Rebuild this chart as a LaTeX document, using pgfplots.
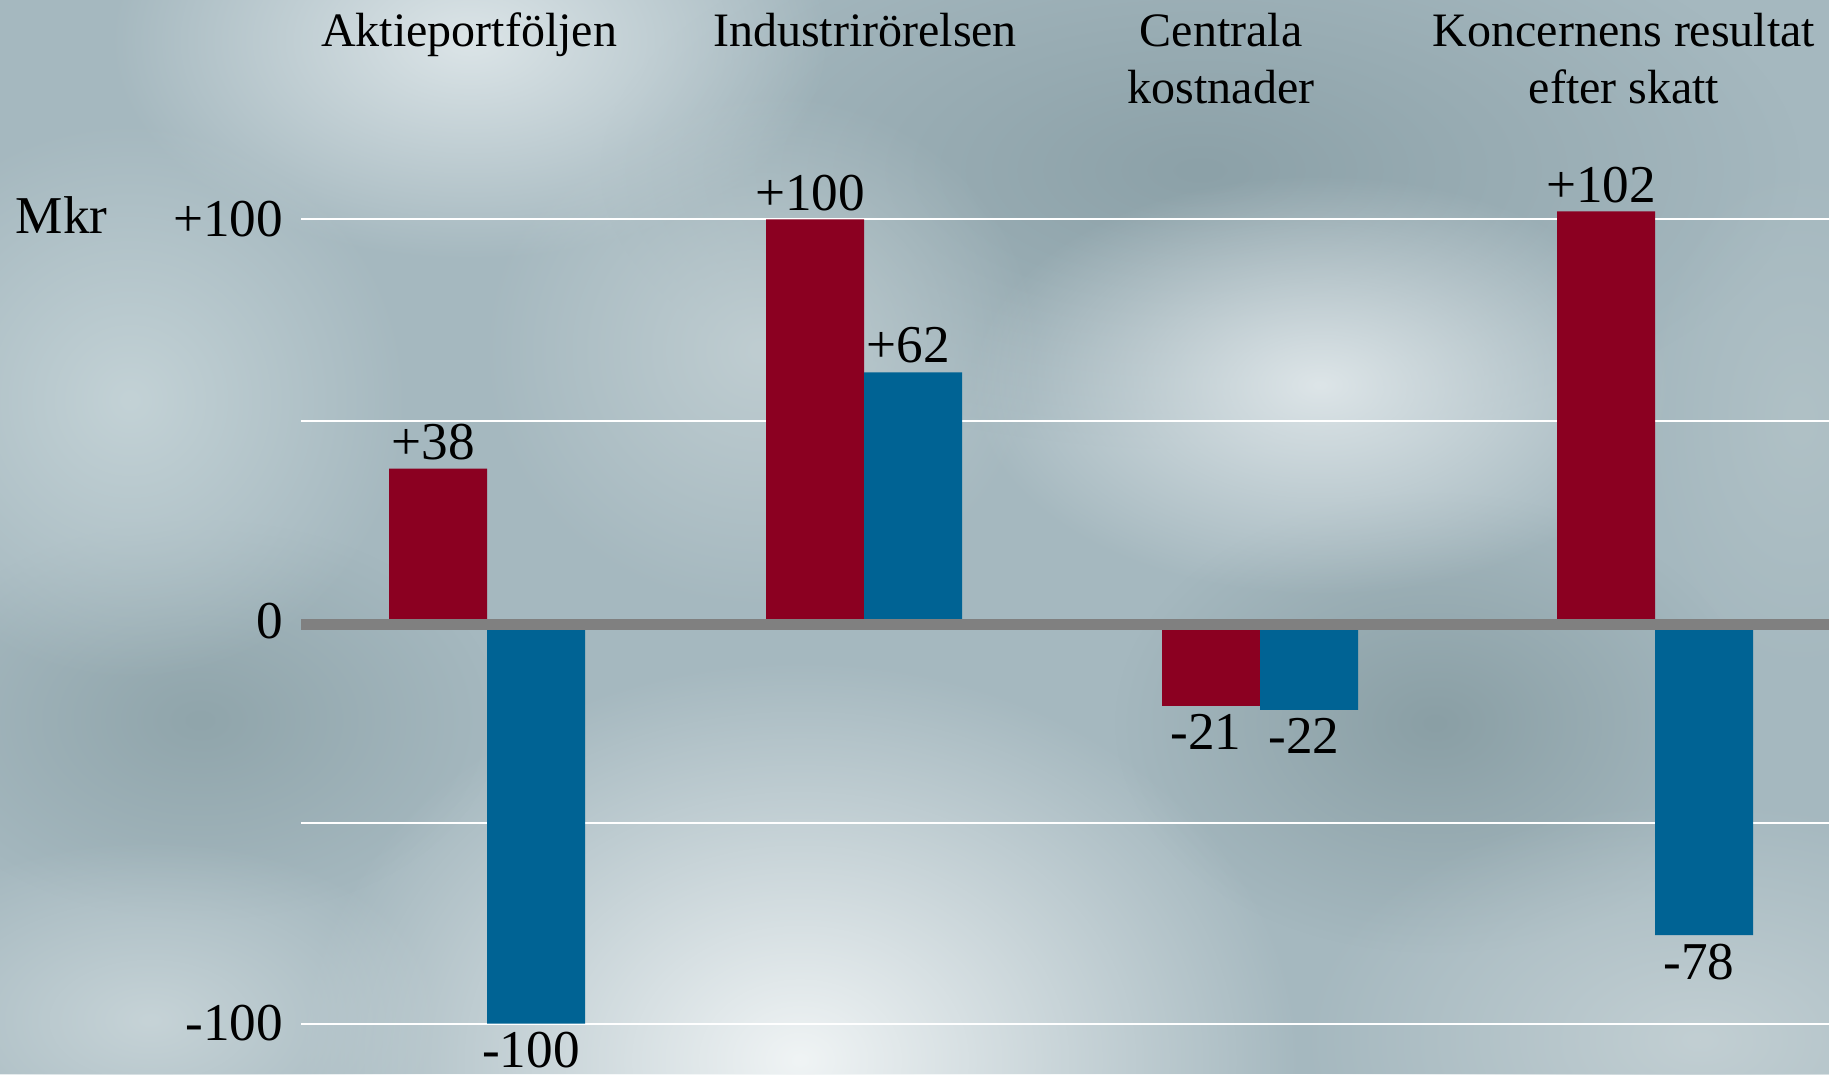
\documentclass[border=0pt]{standalone}
\usepackage{fontspec}
\setmainfont{Liberation Serif}
\usepackage{pgfplots}
\pgfplotsset{compat=1.18}
\usetikzlibrary{fadings}

\definecolor{bgbase}{HTML}{A5B8BF}
\definecolor{barred}{HTML}{8B0021}
\definecolor{barblue}{HTML}{006394}
\definecolor{zeroline}{HTML}{808080}

\tikzfading[name=blob, inner color=transparent!0, outer color=transparent!100]

\newcommand{\numfont}{\fontsize{13.3}{16}\selectfont}
\newcommand{\catfont}{\fontsize{12}{14.25}\selectfont}
% soft cloud: centre x, y, radius x, radius y, hex colour (pixel units)
\newcommand{\cloud}[5]{\definecolor{cloudc}{HTML}{#5}\fill[cloudc, path fading=blob] (#1,#2) ellipse (#3 and #4);}

\begin{document}
\begin{tikzpicture}
  \path[use as bounding box] (0pt,0pt) rectangle (457.25pt,268.5pt);
  % cloudy background, in pixel units of the 1829x1074 original (y down)
  \begin{scope}[x=0.25pt, y=-0.25pt, yshift=268.5pt]
    \clip (0,0) rectangle (1829,1074);
    \fill[bgbase] (0,0) rectangle (1829,1074);
    \cloud{1200}{170}{600}{280}{8CA1A8}
    \cloud{1435}{723}{320}{230}{8A9FA5}
    \cloud{200}{720}{300}{200}{90A5AB}
    \cloud{470}{40}{360}{220}{DCE5E8}
    \cloud{130}{400}{280}{280}{C3D2D6}
    \cloud{760}{350}{280}{260}{BFCDD1}
    \cloud{1320}{385}{350}{210}{DDE5E8}
    \cloud{800}{1060}{500}{400}{F0F4F5}
    \cloud{150}{1020}{300}{180}{C6D3D7}
    \cloud{1700}{1040}{400}{240}{C2CFD3}
    \cloud{1800}{420}{160}{260}{B0C1C6}
  \end{scope}

  \begin{axis}[
      at={(75.25pt,0pt)}, anchor=south west,
      scale only axis,
      width=382pt, height=268.5pt,
      xmin=301, xmax=1829,
      ymin=-112.56, ymax=154.6,
      clip=false,
      axis line style={draw=none},
      major tick length=0pt,
      ytick={-100,-50,0,50,100},
      yticklabels={-100,,0,,+100},
      yticklabel style={font=\numfont, xshift=-1pt},
      ymajorgrids,
      major grid style={white, line width=0.5pt},
      xtick={469,865,1221,1624},
      xticklabels={Aktieportföljen,Industrirörelsen,Centrala\\kostnader,Koncernens resultat\\efter skatt},
      xticklabel pos=upper,
      xticklabel style={font=\catfont, align=center, anchor=north, inner sep=0pt, yshift=-3pt},
      ylabel={Mkr},
      every axis y label/.style={at={(axis description cs:-0.1872,0.783)}, anchor=base west, inner sep=0pt, font=\numfont},
      point meta=y,
      nodes near coords={\pgfmathprintnumber[print sign, assume math mode=true]{\pgfplotspointmeta}},
      nodes near coords align={vertical},
      every node near coord/.append style={font=\numfont, inner sep=2pt},
    ]
    \addplot[ybar, bar width=98, bar shift=-49, fill=barred, draw=none,
      every node near coord/.append style={xshift=-13.5pt}]
      coordinates {(487,38) (864,100) (1260,-21) (1655,102)};
    \addplot[ybar, bar width=98, bar shift=49, fill=barblue, draw=none,
      every node near coord/.append style={xshift=11pt}]
      coordinates {(487,-100) (864,62) (1260,-22) (1655,-78)};
    % thick zero line over the bars, sitting just under the positive bars
    \addplot[zeroline, line width=2.75pt, forget plot, nodes near coords={}] coordinates {(301,-0.7) (1829,-0.7)};
  \end{axis}
\end{tikzpicture}
\end{document}
